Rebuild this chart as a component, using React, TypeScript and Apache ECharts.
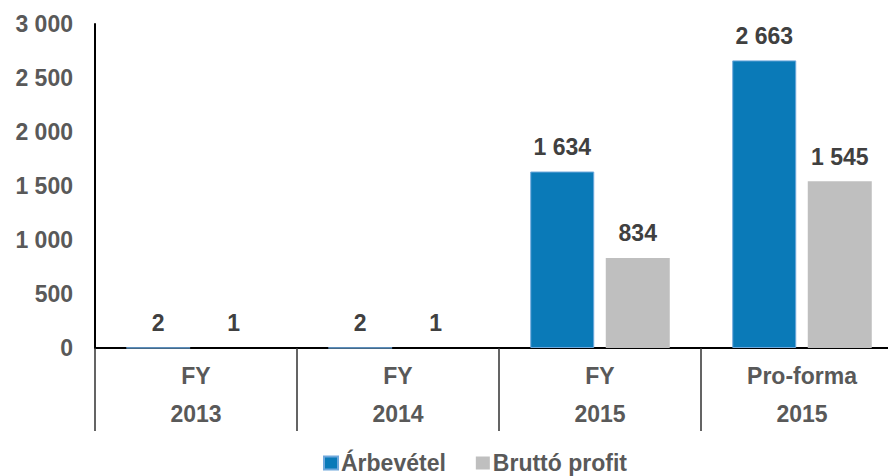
import React, { useEffect, useRef } from "react";
import * as echarts from "echarts";

const categories = ["FY\n2013", "FY\n2014", "FY\n2015", "Pro-forma\n2015"];
const revenue = [2, 2, 1634, 2663];
const grossProfit = [1, 1, 834, 1545];
const seriesNames = ["Árbevétel", "Bruttó profit"];

const FONT = "'Liberation Sans', Arial, sans-serif";
const FS = 23;
const fmt = (v: number) => String(Math.round(v)).replace(/\B(?=(\d{3})+(?!\d))/g, " ");

export default function App() {
  const ref = useRef<HTMLDivElement>(null);
  useEffect(() => {
    document.body.style.margin = "0";
    const chart = echarts.init(ref.current!, null, { renderer: "svg" });
    const labelStyle = {
      show: true,
      position: "top" as const,
      distance: 13,
      color: "#404040",
      fontWeight: "bold" as const,
      fontSize: FS,
      fontFamily: FONT,
      formatter: (p: any) => fmt(p.value),
    };
    chart.setOption({
      animation: false,
      backgroundColor: "#ffffff",
      grid: { left: 95, top: 24, width: 808, height: 324, containLabel: false },
      legend: {
        left: 318,
        top: 446,
        icon: "rect",
        itemWidth: 14,
        itemHeight: 13,
        itemGap: 30,
        textStyle: { color: "#595959", fontWeight: "bold", fontSize: FS, fontFamily: FONT, lineHeight: 24, padding: [0, 0, 0, -2] },
        data: seriesNames,
      },
      xAxis: {
        type: "category",
        data: categories,
        axisLine: { show: true, lineStyle: { color: "#000000", width: 2 } },
        axisTick: { show: true, interval: 0, length: 83, lineStyle: { color: "#303030", width: 1.5 } },
        axisLabel: {
          interval: 0,
          margin: 9,
          color: "#595959",
          fontWeight: "bold",
          fontSize: FS,
          fontFamily: FONT,
          lineHeight: 38,
        },
      },
      yAxis: {
        type: "value",
        min: 0,
        max: 3000,
        interval: 500,
        splitLine: { show: false },
        axisTick: { show: false },
        axisLine: { show: true, lineStyle: { color: "#000000", width: 2 } },
        axisLabel: {
          margin: 22,
          color: "#595959",
          fontWeight: "bold",
          fontSize: FS,
          fontFamily: FONT,
          formatter: (v: number) => fmt(v),
        },
      },
      series: [
        {
          name: seriesNames[0],
          type: "bar",
          data: revenue,
          barWidth: 64,
          barGap: "18%",
          itemStyle: { color: "#0A7AB8", borderColor: "#6FA8DC", borderWidth: 1 },
          label: labelStyle,
        },
        {
          name: seriesNames[1],
          type: "bar",
          data: grossProfit,
          barWidth: 64,
          barGap: "18%",
          itemStyle: { color: "#BFBFBF" },
          label: labelStyle,
        },
      ],
    });
    return () => chart.dispose();
  }, []);
  return (
    <div style={{ width: 888, height: 476, overflow: "hidden", position: "relative" }}>
      <div ref={ref} style={{ width: 920, height: 476 }} />
    </div>
  );
}
